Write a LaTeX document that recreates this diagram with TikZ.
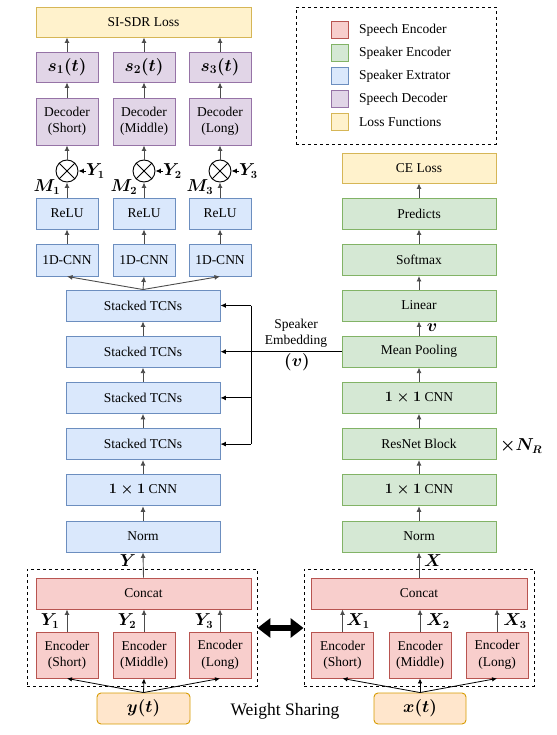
\documentclass[tikz,border=0pt]{standalone}
\usepackage{amsmath}
\usepackage{fontspec}
\setmainfont{Liberation Serif}
\usetikzlibrary{arrows.meta,shapes.geometric}
\definecolor{redF}{HTML}{F8CECC}\definecolor{redD}{HTML}{B85450}
\definecolor{greenF}{HTML}{D5E8D4}\definecolor{greenD}{HTML}{82B366}
\definecolor{blueF}{HTML}{DAE8FC}\definecolor{blueD}{HTML}{6C8EBF}
\definecolor{purpF}{HTML}{E1D5E7}\definecolor{purpD}{HTML}{9673A6}
\definecolor{yelF}{HTML}{FFF2CC}\definecolor{yelD}{HTML}{D6B656}
\definecolor{orgF}{HTML}{FFE6CC}\definecolor{orgD}{HTML}{D79B00}
\newcommand\mytxt{\fontsize{13.5}{16.5}\selectfont}
\newcommand\mylbl{\fontsize{16}{18}\selectfont\boldmath}
\newcommand\mybig{\fontsize{18}{20}\selectfont\boldmath}
\tikzset{
  box/.style={draw, line width=0.9pt, inner sep=0pt, align=center, font=\mytxt},
  redbox/.style={box, fill=redF, draw=redD},
  greenbox/.style={box, fill=greenF, draw=greenD},
  bluebox/.style={box, fill=blueF, draw=blueD},
  purpbox/.style={box, fill=purpF, draw=purpD},
  yelbox/.style={box, fill=yelF, draw=yelD},
  orgbox/.style={box, fill=orgF, draw=orgD, rounded corners=4pt},
  sm/.style={minimum width=62, minimum height=31},
  mid/.style={minimum width=154, minimum height=31},
  wide/.style={minimum width=215, minimum height=31},
  enc/.style={minimum width=62, minimum height=46},
  arr/.style={-{Latex[length=5.5pt,width=5pt]}, line width=0.9pt, draw=black!70},
  emb/.style={-{Latex[length=5.5pt,width=5pt]}, line width=1pt, draw=black},
  lbl/.style={font=\mylbl, inner sep=0pt},
  dashbox/.style={draw, dashed, line width=0.9pt},
  legsq/.style={draw, line width=0.9pt, minimum width=17, minimum height=17, inner sep=0pt},
  legtxt/.style={anchor=west, font=\mytxt, inner sep=0pt},
  mult/.style={circle, draw, line width=0.9pt, fill=white, minimum size=22, inner sep=0pt}
}
\begin{document}
\begin{tikzpicture}[x=1pt,y=-1pt]
\useasboundingbox (0,0) rectangle (556,735);
% ---------- legend ----------
\node[dashbox, minimum width=200, minimum height=137] (legend) at (396,75.5) {};
\node[legsq, fill=redF, draw=redD] (lq1) at (339.5,30) {};
\node[legsq, fill=greenF, draw=greenD] (lq2) at (339.5,53) {};
\node[legsq, fill=blueF, draw=blueD] (lq3) at (339.5,76) {};
\node[legsq, fill=purpF, draw=purpD] (lq4) at (339.5,99) {};
\node[legsq, fill=yelF, draw=yelD] (lq5) at (339.5,122) {};
\node[legtxt] (lt1) at (359,30) {Speech Encoder};
\node[legtxt] (lt2) at (359,53) {Speaker Encoder};
\node[legtxt] (lt3) at (359,76) {Speaker Extrator};
\node[legtxt] (lt4) at (359,99) {Speech Decoder};
\node[legtxt] (lt5) at (359,122) {Loss Functions};
% ---------- left column ----------
\node[yelbox, wide, minimum height=30] (sisdr) at (143.5,22) {SI-SDR Loss};
\foreach \i/\x in {1/67,2/144,3/220}{
  \node[purpbox, sm, minimum height=30, font=\mybig] (s\i) at (\x,67) {$s_{\i}(t)$};
}
\node[purpbox, enc, minimum height=47] (dec1) at (67,121.5) {Decoder\\(Short)};
\node[purpbox, enc, minimum height=47] (dec2) at (144,121.5) {Decoder\\(Middle)};
\node[purpbox, enc, minimum height=47] (dec3) at (220,121.5) {Decoder\\(Long)};
\foreach \i/\x in {1/67,2/144,3/220}{
  \node[mult] (m\i) at (\x,171) {};
  \draw[line width=0.9pt] (m\i.45) -- (m\i.225) (m\i.135) -- (m\i.315);
  \node[bluebox, sm] (relu\i) at (\x,213.5) {ReLU};
  \node[bluebox, sm, minimum height=32] (cnn\i) at (\x,260) {1D-CNN};
  \node[lbl, anchor=west] (yl\i) at (\x+19,171) {$Y_{\i}$};
  \node[lbl] (ml\i) at (\x-20,187) {$M_{\i}$};
  \draw[arr] (dec\i.north) -- (s\i.south);
  \draw[arr] (s\i.north) -- (s\i.north |- sisdr.south);
  \draw[arr] (m\i.north) -- (dec\i.south);
  \draw[arr] (relu\i.north) -- (m\i.south);
  \draw[arr] (cnn\i.north) -- (relu\i.south);
  \draw[-{Latex[length=5.5pt,width=5pt]}, line width=0.9pt] (yl\i.west) -- (m\i.east);
}
\node[bluebox, mid] (tcn1) at (143,305.5) {Stacked TCNs};
\node[bluebox, mid] (tcn2) at (143,351.7) {Stacked TCNs};
\node[bluebox, mid] (tcn3) at (143,397.9) {Stacked TCNs};
\node[bluebox, mid] (tcn4) at (143,444.1) {Stacked TCNs};
\node[bluebox, mid] (lconv) at (143,490.3) {{\boldmath$1\times1$} CNN};
\node[bluebox, mid] (lnorm) at (143,536.5) {Norm};
\foreach \i in {1,2,3}{ \draw[arr] (tcn1.north) -- (cnn\i.south); }
\draw[arr] (tcn2.north) -- (tcn1.south);
\draw[arr] (tcn3.north) -- (tcn2.south);
\draw[arr] (tcn4.north) -- (tcn3.south);
\draw[arr] (lconv.north) -- (tcn4.south);
\draw[arr] (lnorm.north) -- (lconv.south);
% left encoder group
\node[dashbox, minimum width=230, minimum height=117] (lgrp) at (142,627.5) {};
\node[redbox, wide] (lcat) at (143.5,593.5) {Concat};
\node[redbox, enc] (le1) at (67,655) {Encoder\\(Short)};
\node[redbox, enc] (le2) at (144,655) {Encoder\\(Middle)};
\node[redbox, enc] (le3) at (220,655) {Encoder\\(Long)};
\node[orgbox, minimum width=93, minimum height=31, font=\mybig] (yt) at (143.5,708.5) {$y(t)$};
\draw[arr] (lcat.north) -- (lnorm.south);
\node[lbl] (Ylab) at (128,561) {$Y$};
\foreach \i/\x in {1/50,2/127,3/204}{
  \draw[arr] (le\i.north) -- (le\i.north |- lcat.south);
  \node[lbl] (yi\i) at (\x,621) {$Y_{\i}$};
  \draw[-{Latex[length=5pt,width=4.5pt]}, line width=0.8pt] (yt.north) -- (le\i.south);
}
% ---------- right column ----------
\node[yelbox, mid, minimum height=30] (ce) at (419,168) {CE Loss};
\node[greenbox, mid] (pred) at (419,213.5) {Predicts};
\node[greenbox, mid] (soft) at (419,260) {Softmax};
\node[greenbox, mid] (lin) at (419,305.5) {Linear};
\node[greenbox, mid] (mp) at (419,351.7) {Mean Pooling};
\node[greenbox, mid] (rconv1) at (419,397.9) {{\boldmath$1\times1$} CNN};
\node[greenbox, mid] (res) at (419,444.1) {ResNet Block};
\node[greenbox, mid] (rconv2) at (419,490.3) {{\boldmath$1\times1$} CNN};
\node[greenbox, mid] (rnorm) at (419,536.5) {Norm};
\draw[arr] (pred.north) -- (ce.south);
\draw[arr] (soft.north) -- (pred.south);
\draw[arr] (lin.north) -- (soft.south);
\draw[arr] (mp.north) -- (lin.south);
\draw[arr] (rconv1.north) -- (mp.south);
\draw[arr] (res.north) -- (rconv1.south);
\draw[arr] (rconv2.north) -- (res.south);
\draw[arr] (rnorm.north) -- (rconv2.south);
\node[lbl] (vlab) at (432,328) {$v$};
\node[lbl, anchor=west] (NR) at (500,446) {$\times N_R$};
% right encoder group
\node[dashbox, minimum width=230, minimum height=117] (rgrp) at (419,627.5) {};
\node[redbox, minimum width=216, minimum height=31] (rcat) at (419,593.5) {Concat};
\node[redbox, enc] (re1) at (342.5,655) {Encoder\\(Short)};
\node[redbox, enc] (re2) at (420,655) {Encoder\\(Middle)};
\node[redbox, enc] (re3) at (497,655) {Encoder\\(Long)};
\node[orgbox, minimum width=92, minimum height=31, font=\mybig] (xt) at (420,708.5) {$x(t)$};
\draw[arr] (rcat.north) -- (rnorm.south);
\node[lbl] (Xlab) at (433,561) {$X$};
\foreach \i/\x in {1/358,2/438,3/515}{
  \draw[arr] (re\i.north) -- (re\i.north |- rcat.south);
  \node[lbl] (xi\i) at (\x,621) {$X_{\i}$};
  \draw[-{Latex[length=5pt,width=4.5pt]}, line width=0.8pt] (xt.north) -- (re\i.south);
}
% ---------- speaker embedding ----------
\coordinate (vx) at (251,0);
\draw[emb] (mp.west) -- (tcn2.east);
\draw[line width=1pt] (tcn1.east -| vx) -- (tcn4.east -| vx);
\draw[emb] (tcn1.east -| vx) -- (tcn1.east);
\draw[emb] (tcn3.east -| vx) -- (tcn3.east);
\draw[emb] (tcn4.east -| vx) -- (tcn4.east);
\node[font=\mytxt, align=center, inner sep=0pt] (spk) at (296,333.5) {Speaker\\Embedding};
\node[lbl] (vpar) at (297,362) {$(v)$};
% ---------- weight sharing ----------
\draw[line width=6pt, {Triangle[length=13pt,width=19pt]}-{Triangle[length=13pt,width=19pt]}] (lgrp.east |- 0,628) -- (rgrp.west |- 0,628);
\node[font=\fontsize{17.5}{20}\selectfont, inner sep=0pt] (ws) at (285,711) {Weight Sharing};
\end{tikzpicture}
\end{document}
